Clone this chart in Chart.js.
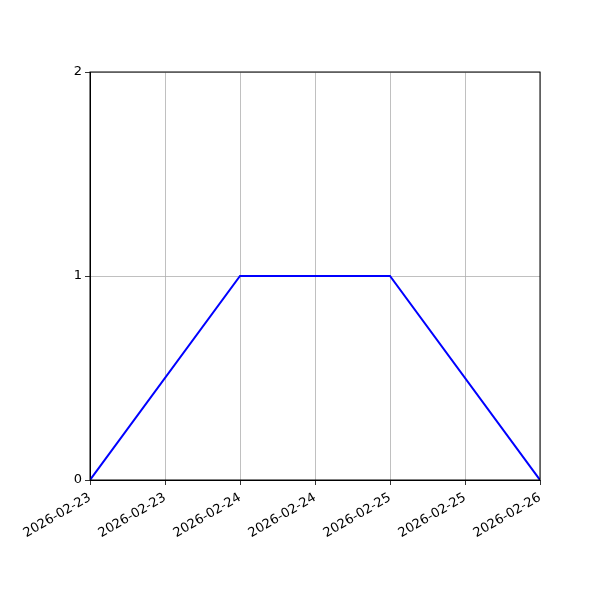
<!DOCTYPE html>
<html>
<head>
<meta charset="utf-8">
<script src="https://cdn.jsdelivr.net/npm/chart.js@4.4.1/dist/chart.umd.min.js"></script>
<style>
  html, body { margin: 0; padding: 0; background: #fff; }
  #wrap { width: 600px; height: 600px; }
</style>
</head>
<body>
<div id="wrap"><canvas id="mycanvas" width="600" height="600"></canvas></div>
<script>
// data
var dates = ['2026-02-23', '2026-02-24', '2026-02-25', '2026-02-26'];
var values = [0, 1, 1, 0];
var xTickLabels = ['2026-02-23', '2026-02-23', '2026-02-24', '2026-02-24', '2026-02-25', '2026-02-25', '2026-02-26'];
var yTicks = [0, 1, 2];

var points = [];
for (var i in dates) {
  points.push({ x: Number(i), y: values[i] });
}

// black frame around the plot area
var frame = {
  id: 'frame',
  afterDraw: function(chart) {
    var a = chart.chartArea;
    var c = chart.ctx;
    c.save();
    c.strokeStyle = '#000';
    c.lineWidth = 1;
    c.strokeRect(a.left, a.top, a.right - a.left, a.bottom - a.top);
    c.restore();
  }
};

var ctx = document.getElementById('mycanvas');
var lineGraph = new Chart(ctx, {
  type: 'line',
  data: {
    datasets: [{
      label: 'value',
      data: points,
      borderColor: '#0000ff',
      borderWidth: 2,
      pointRadius: 0,
      fill: false,
      tension: 0
    }]
  },
  options: {
    responsive: false,
    animation: false,
    layout: { padding: { left: 0, right: 60, top: 72, bottom: 0 } },
    plugins: {
      legend: { display: false },
      tooltip: { enabled: false }
    },
    scales: {
      x: {
        type: 'linear',
        min: 0,
        max: dates.length - 1,
        afterFit: function(scale) { scale.height = 120; },
        afterBuildTicks: function(scale) {
          scale.ticks = xTickLabels.map(function(l, k) { return { value: k * 0.5 }; });
        },
        ticks: {
          color: '#000',
          font: { family: 'DejaVu Sans', size: 13 },
          maxRotation: 30,
          minRotation: 30,
          padding: 5,
          autoSkip: false,
          callback: function(v, idx) { return xTickLabels[idx]; }
        },
        grid: { color: '#b0b0b0', lineWidth: 0.8, tickColor: '#000', tickLength: 5 },
        border: { display: true, color: '#000', width: 1 }
      },
      y: {
        min: yTicks[0],
        max: yTicks[yTicks.length - 1],
        afterFit: function(scale) { scale.width = 90; },
        afterBuildTicks: function(scale) {
          scale.ticks = yTicks.map(function(v) { return { value: v }; });
        },
        ticks: {
          color: '#000',
          font: { family: 'DejaVu Sans', size: 13 },
          padding: 3
        },
        grid: { color: '#b0b0b0', lineWidth: 0.8, tickColor: '#000', tickLength: 5 },
        border: { display: true, color: '#000', width: 1 }
      }
    }
  },
  plugins: [frame]
});
</script>
</body>
</html>
